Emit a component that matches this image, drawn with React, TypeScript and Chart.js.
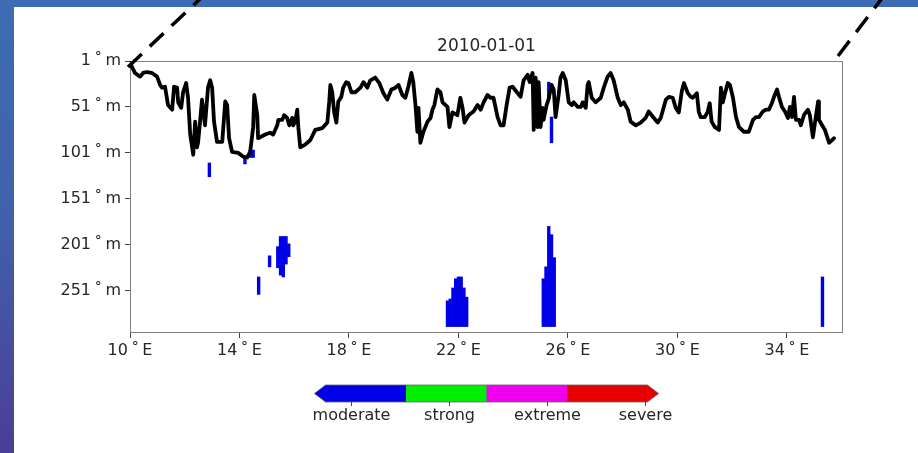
import React, { useEffect, useRef } from "react";
import { Chart, registerables } from "chart.js";

Chart.register(...registerables);

const titleText = "2010-01-01";
const xTickValues = [10, 14, 18, 22, 26, 30, 34];
const yTickValues = [1, 51, 101, 151, 201, 251];

// Mixed-layer style depth line (longitude in degrees E, depth in m)
const lineLon = [
  10.0, 10.18, 10.37, 10.48, 10.62, 10.8, 10.99, 11.1, 11.17, 11.28, 11.39, 11.54, 11.61, 11.72, 11.76, 11.87, 11.94, 12.05, 12.12, 12.2,
  12.31, 12.38, 12.45, 12.49, 12.56, 12.63, 12.74, 12.85, 12.93, 13.0, 13.07, 13.18, 13.37, 13.48, 13.55, 13.62, 13.73, 13.95, 14.13, 14.28,
  14.39, 14.5, 14.54, 14.65, 14.68, 14.94, 15.12, 15.23, 15.38, 15.42, 15.56, 15.63, 15.74, 15.82, 15.93, 15.96, 16.04, 16.11, 16.15, 16.22,
  16.4, 16.59, 16.77, 17.03, 17.21, 17.28, 17.32, 17.39, 17.46, 17.54, 17.61, 17.72, 17.79, 17.9, 17.98, 18.09, 18.23, 18.42, 18.53, 18.67,
  18.78, 18.96, 19.11, 19.26, 19.4, 19.55, 19.7, 19.81, 19.95, 20.06, 20.17, 20.28, 20.35, 20.43, 20.5, 20.54, 20.61, 20.72, 20.87, 20.98,
  21.05, 21.12, 21.23, 21.34, 21.42, 21.6, 21.67, 21.78, 21.96, 22.07, 22.15, 22.22, 22.37, 22.55, 22.7, 22.81, 22.92, 23.06, 23.17, 23.28,
  23.43, 23.54, 23.65, 23.76, 23.87, 23.98, 24.16, 24.27, 24.38, 24.53, 24.6, 24.71, 24.75, 24.82, 24.89, 24.93, 25.0, 25.07, 25.11, 25.22,
  25.29, 25.4, 25.48, 25.55, 25.66, 25.73, 25.81, 25.92, 26.03, 26.14, 26.21, 26.36, 26.47, 26.54, 26.65, 26.72, 26.76, 26.87, 27.01, 27.2,
  27.31, 27.45, 27.56, 27.67, 27.82, 27.93, 28.04, 28.19, 28.29, 28.48, 28.66, 28.84, 28.95, 29.14, 29.28, 29.39, 29.58, 29.69, 29.83, 29.94,
  30.05, 30.16, 30.24, 30.38, 30.49, 30.56, 30.71, 30.78, 30.85, 31.0, 31.11, 31.18, 31.25, 31.37, 31.52, 31.59, 31.66, 31.74, 31.84, 31.92,
  32.03, 32.14, 32.25, 32.43, 32.61, 32.76, 32.87, 32.98, 33.12, 33.23, 33.34, 33.45, 33.53, 33.64, 33.71, 33.82, 33.93, 34.04, 34.11, 34.19,
  34.26, 34.33, 34.44, 34.51, 34.62, 34.77, 34.84, 34.95, 35.03, 35.14, 35.17, 35.33, 35.39, 35.54, 35.65, 35.72,
];
const lineDepth = [
  3, 14, 18, 14, 13, 14, 18, 27, 30, 29, 49, 54, 29, 30, 46, 52, 35, 25, 41, 81,
  103, 67, 95, 89, 67, 43, 71, 30, 22, 30, 67, 89, 89, 45, 49, 85, 100, 101, 105, 106,
  100, 73, 38, 60, 85, 81, 79, 81, 71, 65, 65, 60, 63, 71, 63, 71, 67, 54, 73, 95,
  92, 87, 76, 74, 68, 45, 27, 35, 57, 68, 45, 40, 30, 24, 25, 35, 35, 30, 24, 30,
  22, 19, 25, 36, 43, 32, 30, 27, 38, 41, 29, 14, 24, 49, 78, 52, 90, 78, 67, 63,
  54, 49, 32, 35, 46, 51, 73, 57, 60, 41, 52, 68, 60, 56, 49, 54, 46, 38, 41, 41,
  62, 71, 71, 49, 30, 29, 36, 40, 22, 16, 24, 14, 76, 19, 73, 24, 73, 52, 65, 49,
  43, 27, 32, 62, 38, 19, 14, 22, 46, 49, 46, 51, 51, 46, 52, 27, 24, 41, 46, 41,
  30, 18, 14, 22, 41, 49, 46, 54, 67, 71, 68, 63, 56, 63, 68, 63, 43, 40, 41, 52,
  57, 34, 25, 36, 40, 41, 36, 56, 62, 62, 56, 47, 67, 73, 76, 30, 46, 36, 25, 27,
  41, 62, 73, 78, 78, 65, 62, 62, 56, 54, 54, 47, 40, 32, 40, 51, 56, 63, 51, 62,
  40, 65, 65, 71, 60, 54, 60, 84, 67, 45, 65, 73, 76, 90, 87, 85,
];

// "moderate" class cells: column longitude, top depth, bottom depth
const patchLon = [12.9, 14.2, 14.4, 14.5, 14.7, 15.1, 15.4, 15.5, 15.6, 15.7, 15.8, 21.6, 21.7, 21.8, 21.9, 22.0, 22.1, 22.2, 22.3, 25.1, 25.2, 25.3, 25.4, 25.5, 25.3, 25.4, 35.3];
const patchTop = [112, 106, 98, 98, 236, 213, 203, 192, 192, 192, 200, 262, 260, 248, 238, 236, 236, 248, 258, 238, 225, 181, 190, 215, 24, 62, 236];
const patchBottom = [127, 113, 106, 106, 255, 225, 226, 234, 236, 222, 214, 290, 290, 290, 290, 290, 290, 290, 290, 290, 290, 290, 290, 290, 42, 90, 290];

const classNames = ["moderate", "strong", "extreme", "severe"];
const classColors = ["#0000e8", "#00ee00", "#ee00ee", "#e80000"];

const FONT = "'DejaVu Sans', sans-serif";
const TEXT = "#262626";

const decorPlugin = {
  id: "decor",
  beforeDatasetsDraw(chart: any) {
    const { ctx, chartArea: a } = chart;
    ctx.save();
    ctx.strokeStyle = "#808080";
    ctx.lineWidth = 1;
    ctx.strokeRect(a.left + 0.5, a.top + 0.5, a.right - a.left - 1, a.bottom - a.top - 1);
    ctx.restore();
  },
  afterDraw(chart: any) {
    const { ctx, chartArea: a } = chart;
    ctx.save();
    // zoom indicator dashed lines
    ctx.strokeStyle = "#000";
    ctx.lineWidth = 3.5;
    ctx.setLineDash([19, 11]);
    ctx.beginPath();
    ctx.moveTo(a.left - 2, a.top + 6);
    ctx.lineTo(a.left + 72, -3);
    ctx.stroke();
    ctx.beginPath();
    ctx.moveTo(a.right - 5, a.top - 5);
    ctx.lineTo(a.right + 40, -3);
    ctx.stroke();
    ctx.setLineDash([]);

    // colorbar
    const cx = (a.left + a.right) / 2;
    const w = (a.right - a.left) * 0.452;
    const x0 = cx - w / 2;
    const y0 = a.bottom + 52;
    const h = 17;
    const ext = 11;
    const seg = w / classColors.length;
    classColors.forEach((c, i) => {
      ctx.fillStyle = c;
      ctx.fillRect(x0 + i * seg, y0, seg + (i < classColors.length - 1 ? 0.5 : 0), h);
    });
    ctx.fillStyle = classColors[0];
    ctx.beginPath();
    ctx.moveTo(x0 + 0.5, y0);
    ctx.lineTo(x0 + 0.5, y0 + h);
    ctx.lineTo(x0 - ext, y0 + h / 2);
    ctx.closePath();
    ctx.fill();
    ctx.fillStyle = classColors[classColors.length - 1];
    ctx.beginPath();
    ctx.moveTo(x0 + w - 0.5, y0);
    ctx.lineTo(x0 + w - 0.5, y0 + h);
    ctx.lineTo(x0 + w + ext, y0 + h / 2);
    ctx.closePath();
    ctx.fill();
    ctx.strokeStyle = "#666";
    ctx.lineWidth = 0.8;
    ctx.beginPath();
    ctx.moveTo(x0, y0);
    ctx.lineTo(x0 + w, y0);
    ctx.lineTo(x0 + w + ext, y0 + h / 2);
    ctx.lineTo(x0 + w, y0 + h);
    ctx.lineTo(x0, y0 + h);
    ctx.lineTo(x0 - ext, y0 + h / 2);
    ctx.closePath();
    ctx.stroke();

    ctx.font = `16px ${FONT}`;
    ctx.fillStyle = TEXT;
    ctx.textAlign = "center";
    ctx.textBaseline = "middle";
    ctx.strokeStyle = "#444";
    ctx.lineWidth = 1;
    classNames.forEach((n, i) => {
      const tx = Math.round(x0 + w * (0.08 + i * 0.304)) + 0.5;
      ctx.beginPath();
      ctx.moveTo(tx, y0 + h);
      ctx.lineTo(tx, y0 + h + 4);
      ctx.stroke();
      ctx.fillText(n, tx, y0 + h + 14);
    });
    ctx.restore();
  },
};

export default function App() {
  const ref = useRef<HTMLCanvasElement | null>(null);
  useEffect(() => {
    document.body.style.margin = "0";
    const canvas = ref.current;
    if (!canvas) return;
    const chart = new Chart(canvas, {
      type: "bar",
      data: {
        datasets: [
          {
            type: "bar",
            label: classNames[0],
            data: patchLon.map((x, i) => ({ x, y: [patchTop[i], patchBottom[i]] })) as any,
            backgroundColor: classColors[0],
            borderWidth: 0,
            barPercentage: 1,
            categoryPercentage: 1,
            order: 2,
          } as any,
          {
            type: "line",
            label: "depth",
            data: lineLon.map((x, i) => ({ x, y: lineDepth[i] })) as any,
            borderColor: "#000",
            borderWidth: 3.8,
            pointRadius: 0,
            tension: 0,
            fill: false,
            borderJoinStyle: "round",
            borderCapStyle: "round",
            order: 1,
          } as any,
        ],
      },
      options: {
        responsive: false,
        animation: false,
        devicePixelRatio: 1,
        events: [],
        layout: { padding: { left: 0, right: 75, top: 0, bottom: 0 } },
        plugins: {
          legend: { display: false },
          tooltip: { enabled: false },
          title: {
            display: true,
            text: titleText,
            fullSize: false,
            color: TEXT,
            font: { family: FONT, size: 17, weight: "normal", lineHeight: 1.2 },
            padding: { top: 36, bottom: 4.6 },
          } as any,
        },
        scales: {
          x: {
            type: "linear",
            min: 10,
            max: 36.05,
            offset: false,
            grid: { offset: false, drawOnChartArea: false, drawTicks: true, tickLength: 5, tickColor: "#444" },
            border: { display: false },
            ticks: {
              color: TEXT,
              font: { family: FONT, size: 16 },
              padding: 3,
              maxRotation: 0,
              autoSkip: false,
              callback: (v: any) => `${v}\u2009˚\u2009E`,
            },
            afterBuildTicks: (s: any) => {
              s.ticks = xTickValues.map((v) => ({ value: v }));
            },
            afterFit: (s: any) => {
              s.height = 120;
            },
          },
          y: {
            type: "linear",
            reverse: true,
            min: 1,
            max: 297,
            grid: { drawOnChartArea: false, drawTicks: true, tickLength: 5, tickColor: "#444" },
            border: { display: false },
            ticks: {
              color: TEXT,
              font: { family: FONT, size: 16 },
              padding: 4,
              autoSkip: false,
              callback: (v: any) => `${v}\u2009˚\u2009m`,
            },
            afterBuildTicks: (s: any) => {
              s.ticks = yTickValues.map((v) => ({ value: v }));
            },
            afterFit: (s: any) => {
              s.width = 130;
            },
          },
        },
      } as any,
      plugins: [decorPlugin],
    });
    return () => chart.destroy();
  }, []);

  return (
    <div
      style={{
        position: "fixed",
        left: 0,
        top: 0,
        width: 918,
        height: 453,
        overflow: "hidden",
        background: "linear-gradient(to bottom, #3e6cb4 0%, #4160aa 50%, #4a3e96 100%)",
      }}
    >
      <div style={{ position: "absolute", left: 14, top: 7, right: 0, bottom: 0, background: "#fff" }} />
      <canvas
        ref={ref}
        width={918}
        height={453}
        style={{ position: "absolute", left: 0, top: 0, width: 918, height: 453 }}
      />
    </div>
  );
}
